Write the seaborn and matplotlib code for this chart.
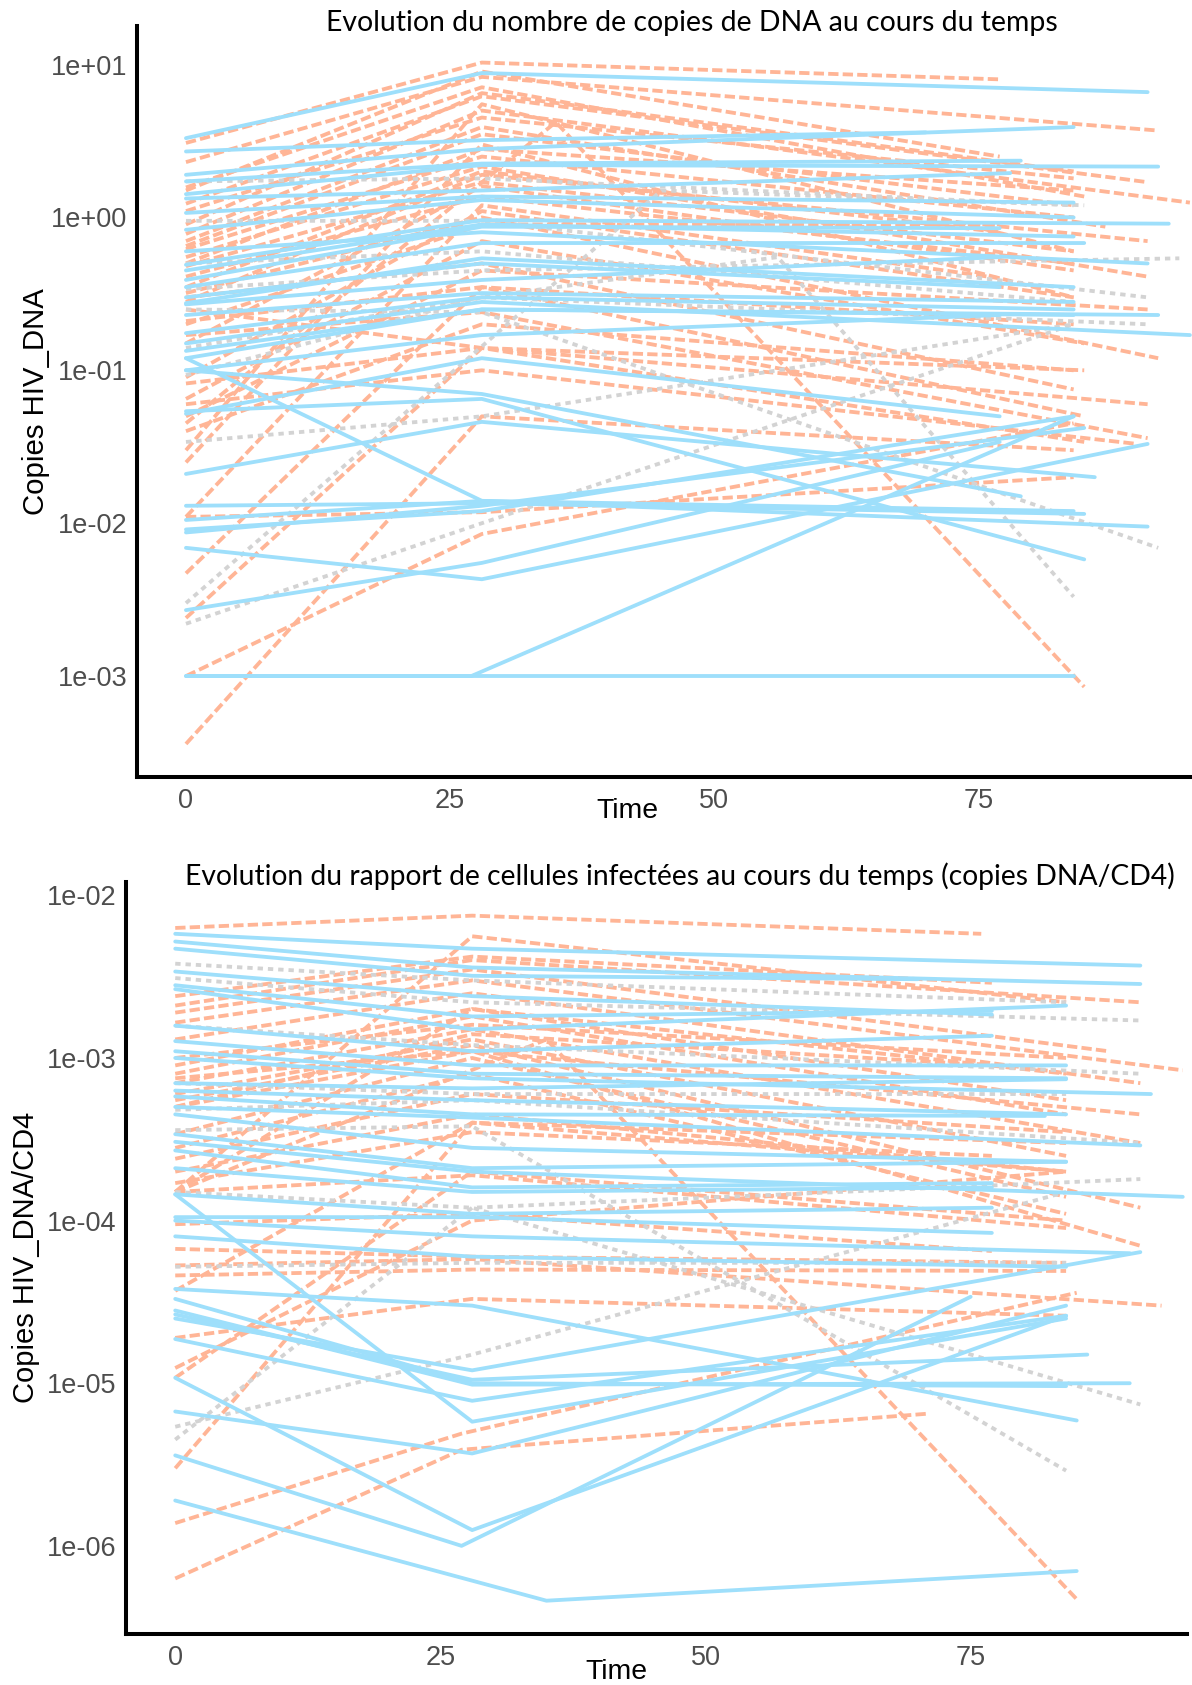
import matplotlib
matplotlib.use("Agg")
import matplotlib.pyplot as plt
from matplotlib.ticker import FixedLocator, FixedFormatter, NullLocator
import pandas as pd
import seaborn as sns

# ---------------- data ----------------
# panel 1 : copies HIV DNA
dna_group = (["bleu"] * 35) + (["saumon"] * 39) + (["gris"] * 10)
dna_time = [
    # bleu
    [0, 28, 91], [0, 28, 70], [0, 28, 84], [0, 28, 79], [0, 28, 92], [0, 28, 78], [0, 28, 84], [0, 28, 84],
    [0, 28, 93], [0, 28, 84], [0, 28, 77], [0, 28, 85], [0, 28, 84], [0, 28, 77], [0, 28, 84], [0, 28, 95],
    [0, 28, 92], [0, 28, 84], [0, 28, 77], [0, 28, 84], [0, 28, 85], [0, 28, 86], [0, 28, 85], [0, 28, 91],
    [0, 28, 84], [0, 28, 85], [0, 28, 91], [0, 28, 77], [0, 28, 84], [0, 27, 84], [0, 28, 77], [0, 28, 79],
    [0, 28, 84], [0, 28, 77], [0, 28, 91],
    # saumon
    [0, 28, 77], [0, 28, 92], [0, 28, 85], [0, 28, 91], [0, 28, 95], [0, 28, 87], [0, 28, 84], [0, 28, 91],
    [0, 28, 84], [0, 28, 84], [0, 28, 92], [0, 28, 84], [0, 28, 85], [0, 28, 91], [0, 28, 85], [0, 28, 90],
    [0, 35, 85], [0, 28, 84], [0, 28, 84], [0, 28, 77], [0, 28, 84], [0, 28, 85], [0, 28, 84], [0, 28, 84],
    [0, 28, 77], [0, 28, 84], [0, 28, 84], [0, 28, 77], [0, 28, 91], [0, 28, 84], [0, 28, 85],
    [0, 28, 84], [0, 28, 91], [0, 28, 84], [0, 28, 84], [0, 28, 77], [0, 28, 91], [0, 28, 84], [0, 28, 84],
    # gris
    [0, 28, 94], [0, 28, 84], [0, 28, 91], [0, 28, 92], [0, 28, 56, 84], [0, 28, 84], [0, 45, 85], [0, 28, 84],
    [0, 28, 84], [0, 28, 91],
]
dna_value = [
    # bleu
    [3.3, 8.8, 6.6], [2.7, 3.2, 3.6], [1.9, 2.8, 3.9], [1.72, 2.25, 2.35], [1.42, 2.2, 2.15], [1.33, 1.5, 1.95],
    [1.07, 1.37, 1.25], [0.83, 1.3, 1.0], [0.49, 0.96, 0.91], [0.45, 0.9, 0.75], [0.39, 0.87, 0.85],
    [0.35, 0.68, 0.68], [0.275, 0.54, 0.35], [0.27, 0.39, 0.55], [0.175, 0.3, 0.25], [0.15, 0.28, 0.17],
    [0.134, 0.25, 0.23], [0.12, 0.25, 0.23], [0.1, 0.17, 0.23], [0.12, 0.014, 0.012], [0.054, 0.065, 0.0058],
    [0.021, 0.046, 0.02], [0.013, 0.0135, 0.0115], [0.0105, 0.014, 0.0095], [0.0091, 0.012, 0.05],
    [0.0087, 0.013, 0.042], [0.0069, 0.0043, 0.033], [0.0027, 0.0055, 0.034], [0.001, 0.001, 0.001],
    [0.001, 0.001, 0.05], [0.052, 0.12, 0.05], [0.1, 0.07, 0.015],
    [0.23, 0.32, 0.28], [0.3, 0.5, 0.35], [0.6, 0.8, 0.5],
    # saumon
    [3.07, 10.3, 8.0], [2.3, 8.3, 3.7], [1.57, 7.1, 1.37], [1.23, 6.2, 1.7], [0.78, 5.0, 1.25], [0.7, 3.9, 0.87],
    [0.62, 2.5, 1.0], [0.55, 2.15, 0.41], [0.48, 1.7, 0.6], [0.41, 1.37, 0.5], [0.32, 1.0, 0.12],
    [0.3, 0.5, 0.075], [0.21, 0.35, 0.05], [0.17, 0.24, 0.036], [0.082, 0.14, 0.034], [0.06, 0.1, 0.033],
    [0.045, 4.2, 0.00085], [0.03, 5.5, 0.6], [0.025, 3.0, 0.3], [0.011, 1.2, 0.4], [0.0047, 0.35, 0.2],
    [0.0024, 0.14, 0.1], [0.001, 0.0085, 0.045], [0.00036, 0.05, 0.03], [1.5, 9.0, 2.5], [0.9, 6.5, 2.0],
    [0.65, 3.5, 1.2], [0.35, 2.0, 0.8], [0.25, 0.14, 0.06], [0.011, 0.0118, 0.02], [0.065, 0.7, 0.15],
    [0.5, 2.8, 1.5], [0.28, 1.9, 0.7], [0.15, 1.6, 0.45], [0.09, 1.1, 0.3], [0.2, 0.9, 0.9],
    [0.05, 0.45, 0.25], [0.04, 0.2, 0.1], [1.1, 4.5, 1.8],
    # gris
    [0.34, 0.45, 0.54], [1.72, 1.8, 1.2], [0.95, 0.95, 0.3], [0.25, 0.24, 0.0069], [0.093, 0.3, 0.55, 0.0033],
    [0.034, 0.05, 0.2], [0.003, 1.5, 1.2], [0.0022, 0.01, 0.2], [0.5, 0.6, 0.28], [0.14, 0.3, 0.2],
]

# panel 2 : copies HIV DNA / CD4
ratio_group = (["bleu"] * 34) + (["saumon"] * 35) + (["gris"] * 10)
ratio_time = [
    # bleu
    [0, 28, 91], [0, 28, 91], [0, 28, 70], [0, 28, 77], [0, 28, 77], [0, 28, 84], [0, 28, 77], [0, 28, 84],
    [0, 28, 84], [0, 28, 92], [0, 28, 84], [0, 28, 84], [0, 28, 82], [0, 28, 91], [0, 28, 84], [0, 28, 84],
    [0, 28, 95], [0, 28, 77], [0, 28, 77], [0, 28, 77], [0, 28, 77], [0, 28, 85], [0, 28, 84], [0, 28, 90],
    [0, 28, 86], [0, 28, 84], [0, 28, 84], [0, 28, 84], [0, 27, 75], [0, 35, 85], [0, 28, 84], [0, 28, 91],
    [0, 28, 84], [0, 28, 90],
    # saumon
    [0, 28, 76], [0, 28, 84], [0, 28, 77], [0, 28, 91], [0, 28, 88], [0, 28, 95], [0, 28, 91], [0, 28, 84],
    [0, 28, 84], [0, 28, 91], [0, 28, 84], [0, 28, 91], [0, 28, 91], [0, 28, 84], [0, 28, 84], [0, 28, 84],
    [0, 28, 77], [0, 35, 85], [0, 28, 84], [0, 28, 77], [0, 28, 84], [0, 28, 93], [0, 28, 84], [0, 28, 84],
    [0, 28, 84], [0, 28, 84], [0, 28, 84], [0, 28, 84], [0, 27, 85], [0, 27, 71], [0, 28, 84], [0, 28, 77],
    [0, 28, 84], [0, 28, 91], [0, 28, 84],
    # gris
    [0, 28, 84], [0, 28, 91], [0, 28, 91], [0, 28, 84], [0, 28, 91], [0, 28, 84], [0, 28, 91], [0, 28, 84],
    [0, 28, 84], [0, 28, 91],
]
ratio_value = [
    # bleu
    [5.8e-3, 4.7e-3, 3.7e-3], [5.2e-3, 3.6e-3, 2.85e-3], [4.7e-3, 3.2e-3, 3.05e-3], [3.4e-3, 2.4e-3, 1.85e-3],
    [2.8e-3, 1.8e-3, 1.95e-3], [2.65e-3, 1.5e-3, 2.1e-3], [1.58e-3, 1.1e-3, 1.37e-3], [1.27e-3, 9e-4, 9e-4],
    [1.1e-3, 8e-4, 7.5e-4], [1.0e-3, 7.5e-4, 6e-4], [7e-4, 6.5e-4, 7.4e-4], [6.3e-4, 5.5e-4, 4.5e-4],
    [5.8e-4, 4.5e-4, 4.4e-4], [5.0e-4, 4.3e-4, 2.9e-4], [4.5e-4, 2.8e-4, 2.3e-4], [3.4e-4, 2.1e-4, 2.3e-4],
    [3.05e-4, 2.0e-4, 1.4e-4], [2.7e-4, 1.6e-4, 1.7e-4], [2.1e-4, 1.5e-4, 1.6e-4], [1.45e-4, 1.1e-4, 1.2e-4],
    [1.05e-4, 1.05e-4, 8.4e-5], [3.8e-5, 3.0e-5, 5.9e-6], [3.3e-5, 1.0e-5, 9.6e-6], [2.8e-5, 9.8e-6, 1.0e-5],
    [2.65e-5, 1.05e-5, 1.5e-5], [1.87e-5, 7.8e-6, 2.6e-5], [1.08e-5, 1.25e-6, 2.6e-5], [6.7e-6, 3.7e-6, 3.0e-5],
    [3.6e-6, 1.0e-6, 3.4e-5], [1.9e-6, 4.6e-7, 7e-7], [1.45e-4, 5.8e-6, 2.5e-5], [2.5e-5, 1.2e-5, 6.4e-5],
    [8e-5, 6e-5, 5.2e-5], [1.0e-4, 8e-5, 6.3e-5],
    # saumon
    [6.3e-3, 7.5e-3, 5.8e-3], [1.5e-4, 5.6e-3, 2.2e-3], [2.4e-3, 4.2e-3, 2.9e-3], [2.1e-3, 4.0e-3, 2.2e-3],
    [1.9e-3, 3.5e-3, 1.1e-3], [1.65e-3, 3.0e-3, 8.4e-4], [1.3e-3, 2.5e-3, 7.0e-4], [9e-4, 2.0e-3, 5.5e-4],
    [8e-4, 1.8e-3, 4.5e-4], [7e-4, 1.5e-3, 3e-4], [6e-4, 1.3e-3, 2.5e-4], [5.5e-4, 1.2e-3, 1.2e-4],
    [5e-4, 1.1e-3, 7e-5], [3.4e-4, 1.0e-3, 1.4e-4], [2.8e-4, 8e-4, 1.1e-4], [2.4e-4, 6e-4, 3.5e-4],
    [1.7e-4, 3.5e-4, 2.5e-4], [1.5e-4, 1.3e-3, 4.7e-7], [1.5e-4, 1.9e-4, 9e-5], [9.5e-5, 1.1e-4, 6.5e-5],
    [6.7e-5, 6e-5, 5.5e-5], [5.3e-5, 5.8e-5, 3.0e-5], [4.6e-5, 5e-5, 4.9e-5], [3.7e-5, 4e-4, 3e-4],
    [1.9e-5, 3.3e-5, 2.6e-5], [1.24e-5, 1e-4, 2e-4], [1.08e-5, 2e-4, 1e-4], [3e-6, 4e-4, 2e-4],
    [1.38e-6, 4.9e-6, 3.6e-5], [6.3e-7, 3.9e-6, 6.5e-6], [1.5e-4, 2.0e-3, 8e-4], [5e-4, 1.4e-3, 9e-4],
    [1.0e-3, 1.6e-3, 1.0e-3], [7.5e-4, 1.1e-3, 4.5e-4], [2.0e-4, 4.5e-4, 2e-4],
    # gris
    [3.8e-3, 3.0e-3, 2.2e-3], [3.1e-3, 2.2e-3, 1.7e-3], [1.58e-3, 1.2e-3, 8e-4], [7e-4, 6e-4, 6e-4],
    [4.8e-4, 5.5e-4, 3e-4], [3.6e-4, 3.8e-4, 2.9e-6], [1.5e-4, 1.2e-4, 7.4e-6], [5.2e-5, 5.5e-5, 5.5e-5],
    [5.4e-6, 1.5e-5, 1.5e-4], [4.5e-6, 1.2e-4, 1.8e-4],
]

x_ticks = [0, 25, 50, 75]
x_tick_labels = ["0", "25", "50", "75"]
dna_y_ticks = [1e1, 1e0, 1e-1, 1e-2, 1e-3]
dna_y_tick_labels = ["1e+01", "1e+00", "1e-01", "1e-02", "1e-03"]
ratio_y_ticks = [1e-2, 1e-3, 1e-4, 1e-5, 1e-6]
ratio_y_tick_labels = ["1e-02", "1e-03", "1e-04", "1e-05", "1e-06"]

title_dna = "Evolution du nombre de copies de DNA au cours du temps"
title_ratio = "Evolution du rapport de cellules infectées au cours du temps (copies DNA/CD4)"
ylab_dna = "Copies HIV_DNA"
ylab_ratio = "Copies HIV_DNA/CD4"
xlab = "Time"

# ---------------- style ----------------
palette = {"saumon": "#FFB596", "gris": "#D3D3D3", "bleu": "#9EDFFB"}
dashes = {"saumon": (2.7, 1.1), "gris": (1.4, 1.3), "bleu": ""}
order = ["saumon", "gris", "bleu"]

sns.set_style("white")
plt.rcParams["font.family"] = ["Liberation Sans", "DejaVu Sans"]

W, H = 1192, 1685
fig = plt.figure(figsize=(W / 100, H / 100), dpi=100)


def long_frame(groups, times, values):
    rows = []
    for i, (g, ts, vs) in enumerate(zip(groups, times, values)):
        for t, v in zip(ts, vs):
            rows.append((i, g, t, v))
    return pd.DataFrame(rows, columns=["id", "groupe", "Time", "valeur"])


def px_rect(left, top, right, bottom):
    return [left / W, 1 - bottom / H, (right - left) / W, (bottom - top) / H]


def draw_panel(ax, df, yticks, ylabels, xlim, ylim):
    ax.set_yscale("log")
    sns.lineplot(data=df, x="Time", y="valeur", hue="groupe", style="groupe", units="id",
                 estimator=None, hue_order=order, style_order=order, palette=palette,
                 dashes=dashes, lw=2.75, legend=False, ax=ax)
    ax.set_xlim(*xlim)
    ax.set_ylim(*ylim)
    ax.xaxis.set_major_locator(FixedLocator(x_ticks))
    ax.xaxis.set_major_formatter(FixedFormatter(x_tick_labels))
    ax.yaxis.set_major_locator(FixedLocator(yticks))
    ax.yaxis.set_major_formatter(FixedFormatter(ylabels))
    ax.yaxis.set_minor_locator(NullLocator())
    ax.set_xlabel("")
    ax.set_ylabel("")
    for s in ["top", "right"]:
        ax.spines[s].set_visible(False)
    for s in ["left", "bottom"]:
        ax.spines[s].set_color("black")
        ax.spines[s].set_linewidth(2.9)
    ax.tick_params(axis="both", which="major", length=3.6, width=1.4, color="#333333",
                   labelcolor="#4D4D4D", labelsize=19.5, pad=3.0, direction="out")
    ax.tick_params(axis="x", pad=4.5)
    ax.set_facecolor("white")


ax1 = fig.add_axes(px_rect(136.5, 26, 1192, 777))
draw_panel(ax1, long_frame(dna_group, dna_time, dna_value), dna_y_ticks, dna_y_tick_labels,
           (-4.68, 95.2), (10 ** -3.66, 10 ** 1.252))

ax2 = fig.add_axes(px_rect(125.8, 882, 1187, 1634))
draw_panel(ax2, long_frame(ratio_group, ratio_time, ratio_value), ratio_y_ticks, ratio_y_tick_labels,
           (-4.66, 95.4), (10 ** -6.542, 10 ** -1.918))

title_font = ["Lato", "DejaVu Sans"]
texts = [
    # text, x, y, target length px, rotation, family, ha, va
    (title_dna, 692, 31.5, 733, 0, title_font, "center", "baseline"),
    (title_ratio, 680, 885.5, 990, 0, title_font, "center", "baseline"),
    (ylab_dna, 36.5, 401.5, 227, 90, ["Liberation Sans"], "center", "center"),
    (ylab_ratio, 26, 1257, 291, 90, ["Liberation Sans"], "center", "center"),
    (xlab, 627.5, 811, 62, 0, ["Liberation Sans"], "center", "center"),
    (xlab, 616, 1672, 62, 0, ["Liberation Sans"], "center", "center"),
]
objs = []
for txt, x, y, L, rot, fam, ha, va in texts:
    t = fig.text(x / W, 1 - y / H, txt, rotation=rot, family=fam, ha=ha, va=va,
                 fontsize=20, color="black")
    objs.append((t, L, rot))

fig.canvas.draw()
r = fig.canvas.get_renderer()
for t, L, rot in objs:
    bb = t.get_window_extent(r)
    cur = bb.height if rot == 90 else bb.width
    t.set_fontsize(20 * L / cur)

fig.savefig("out.png", dpi=100, facecolor="white")
